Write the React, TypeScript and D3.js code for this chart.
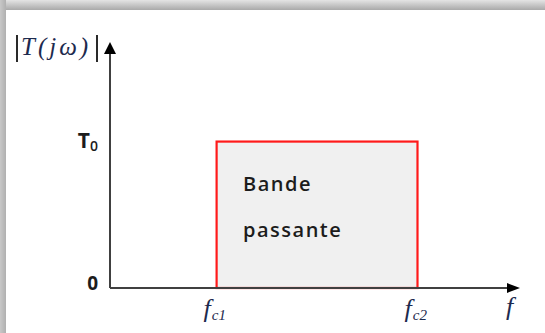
import * as d3 from 'd3';
import React from 'react';

// frequency axis (arbitrary units), cut-off frequencies of the pass band
const cutoffNames = ['c1', 'c2'];
const cutoffValues = [2.6, 7.5];
// gain levels shown on the vertical axis
const gainNames = ['0', 'T'];
const gainValues = [0, 1];
const bandLabel = ['Bande', 'passante'];

const width = 545, height = 333;
const origin = { x: 110, y: 288 };

const App = () => {
  const x = d3.scaleLinear().domain([0, 10]).range([origin.x, 520]);
  const y = d3.scaleLinear().domain([0, 1.68]).range([origin.y, 42]);

  const ink = '#1c1c1c';
  const serif = '"Liberation Serif", "DejaVu Serif", serif';
  const sans = '"Open Sans", "DejaVu Sans", sans-serif';

  return (
    <div style={{ position: 'fixed', left: 0, top: 0 }}>
      <svg width={width} height={height} style={{ display: 'block' }}>
        <defs>
          <linearGradient id="shTop" x1="0" y1="0" x2="0" y2="1">
            <stop offset="0" stopColor="#e4e4e4" />
            <stop offset="1" stopColor="#a9a9a9" />
          </linearGradient>
          <linearGradient id="shLeft" x1="0" y1="0" x2="1" y2="0">
            <stop offset="0" stopColor="#c8c8c8" />
            <stop offset="1" stopColor="#b0b0b0" />
          </linearGradient>
        </defs>
        <rect width={width} height={height} fill="#fff" />
        <rect x={0} y={0} width={width} height={10} fill="url(#shTop)" />
        <rect x={0} y={0} width={6} height={height} fill="url(#shLeft)" />

        {/* pass band */}
        <rect
          x={x(cutoffValues[0])}
          y={y(gainValues[1])}
          width={x(cutoffValues[1]) - x(cutoffValues[0])}
          height={y(gainValues[0]) - y(gainValues[1])}
          fill="#f0f0f0"
          stroke="#ff1a1a"
          strokeWidth={2.2}
        />
        {bandLabel.map((t, i) => (
          <text key={t} x={243} y={191 + i * 46} fontFamily={sans} fontWeight={600}
            fontSize={20} fill={ink} letterSpacing={1.5}>{t}</text>
        ))}

        {/* axes */}
        <line x1={x(0)} y1={y(0)} x2={x(0)} y2={y(1.68) + 10} stroke="#404040" strokeWidth={2} />
        <line x1={x(0)} y1={y(0)} x2={x(10) - 12} y2={y(0)} stroke="#404040" strokeWidth={2} />
        <path d={d3.line()([[x(0) - 6, y(1.68) + 12], [x(0), y(1.68)], [x(0) + 6, y(1.68) + 12]]) + 'Z'} fill="#000" />
        <path d={d3.line()([[x(10) - 13, y(0) - 5], [x(10), y(0)], [x(10) - 13, y(0) + 5]]) + 'Z'} fill="#000" />

        {/* gain ticks */}
        {gainValues.map((v, i) => (
          <text key={i} x={98} y={y(v) + (i === 0 ? 2 : 6)} textAnchor="end" fontFamily={sans} fontWeight={700}
            fontSize={i === 0 ? 19 : 21} fill={ink}>
            {gainNames[i]}
            {i === 1 && <tspan fontSize={14} dy={3} fontWeight={600}>0</tspan>}
          </text>
        ))}

        {/* cut-off frequency ticks */}
        {cutoffValues.map((v, i) => (
          <text key={i} x={x(v) - 13} y={317} fontFamily={serif} fontStyle="italic" fontSize={26} fill="#1d2a4e">
            f<tspan fontSize={15} dy={3} dx={1}>{cutoffNames[i]}</tspan>
          </text>
        ))}
        <text x={x(10) - 14} y={315} fontFamily={serif} fontStyle="italic" fontSize={26} fill="#1d2a4e">f</text>

        {/* axis title |T(jw)| */}
        <line x1={17} y1={35} x2={17} y2={62} stroke="#2a2a2a" strokeWidth={2} />
        <line x1={97} y1={35} x2={97} y2={62} stroke="#2a2a2a" strokeWidth={2} />
        <text x={21} y={55} fontFamily={serif} fontStyle="italic" fontSize={25} fill="#1d2a4e" letterSpacing={3}>
          T(jω)
        </text>
      </svg>
    </div>
  );
};

export default App;
